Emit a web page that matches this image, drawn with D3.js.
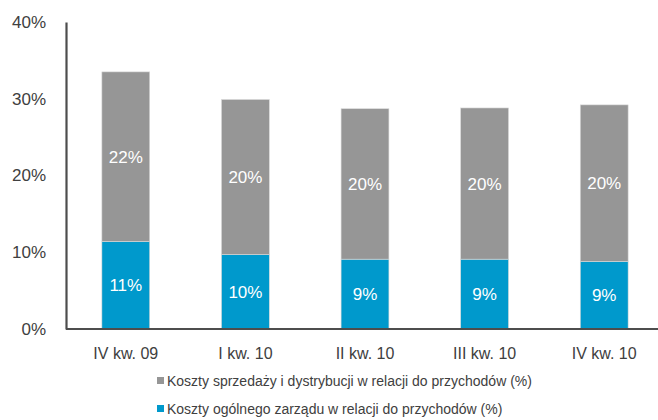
<!DOCTYPE html>
<html>
<head>
<meta charset="utf-8">
<script src="https://cdn.jsdelivr.net/npm/d3@7"></script>
<style>
  html, body { margin: 0; padding: 0; background: #fff; }
  svg { display: block; font-family: "Liberation Sans", Arial, sans-serif; }
</style>
</head>
<body>
<svg id="chart" width="658" height="420"></svg>
<script>
// Quarters shown on the x axis
const categories = ["IV kw. 09", "I kw. 10", "II kw. 10", "III kw. 10", "IV kw. 10"];
// General administrative costs as % of revenue (bottom segment)
const adminCosts = [11.4, 9.7, 9.1, 9.1, 8.8];
// Selling and distribution costs as % of revenue (top segment)
const salesCosts = [22.1, 20.2, 19.6, 19.7, 20.4];
// Y axis tick values (%)
const yTicks = [0, 10, 20, 30, 40];
// Legend entries
const seriesNames = [
  "Koszty sprzedaży i dystrybucji w relacji do przychodów (%)",
  "Koszty ogólnego zarządu w relacji do przychodów (%)"
];
const colors = { sales: "#969696", admin: "#0099cc" };

const svg = d3.select("#chart");
const plotLeft = 66, plotRight = 664, plotTop = 22, plotBottom = 329;

const x = d3.scaleBand().domain(categories).range([plotLeft, plotRight]).paddingInner(0.6).paddingOuter(0.3);
const y = d3.scaleLinear().domain([0, 40]).range([plotBottom, plotTop]);

const rows = categories.map((c, i) => ({ cat: c, admin: adminCosts[i], sales: salesCosts[i] }));
const stack = d3.stack().keys(["admin", "sales"])(rows);

const g = svg.append("g");
stack.forEach(layer => {
  g.selectAll(null).data(layer).enter().append("rect")
    .attr("x", d => x(d.data.cat))
    .attr("width", x.bandwidth())
    .attr("y", d => y(d[1]))
    .attr("height", d => y(d[0]) - y(d[1]))
    .attr("fill", colors[layer.key])
    .attr("stroke", "#d9d9d9")
    .attr("stroke-width", 0.6);
  g.selectAll(null).data(layer).enter().append("text")
    .attr("x", d => x(d.data.cat) + x.bandwidth() / 2)
    .attr("y", d => (y(d[0]) + y(d[1])) / 2)
    .attr("dy", "0.35em")
    .attr("text-anchor", "middle")
    .attr("fill", "#fff")
    .attr("font-size", 17)
    .text(d => Math.round(d.data[layer.key]) + "%");
});

// Y axis
const yAxis = d3.axisLeft(y).tickValues(yTicks).tickSize(0).tickPadding(20).tickFormat(d => d + "%");
const ya = svg.append("g").attr("transform", `translate(${plotLeft},0)`).call(yAxis);
ya.select(".domain").attr("stroke", "#4d4d4d").attr("stroke-width", 2.2);
ya.selectAll("text").attr("font-size", 17).attr("fill", "#404040")
  .attr("font-family", "'Liberation Sans', Arial, sans-serif");

// X axis
const xAxis = d3.axisBottom(x).tickSize(0).tickPadding(19);
const xa = svg.append("g").attr("transform", `translate(0,${plotBottom})`).call(xAxis);
xa.select(".domain").attr("d", `M${plotLeft},0H658`).attr("stroke", "#4d4d4d").attr("stroke-width", 2.2);
xa.selectAll("text").attr("font-size", 16).attr("fill", "#404040")
  .attr("font-family", "'Liberation Sans', Arial, sans-serif");

// Legend
const legend = svg.append("g").attr("transform", "translate(157,0)");
const legendY = [382, 410];
[colors.sales, colors.admin].forEach((c, i) => {
  legend.append("rect").attr("x", 0).attr("y", legendY[i] - 5).attr("width", 7).attr("height", 7).attr("fill", c);
  legend.append("text").attr("x", 10).attr("y", legendY[i]).attr("dy", "0.32em")
    .attr("font-size", 14).attr("fill", "#404040")
    .text(seriesNames[i]);
});
</script>
</body>
</html>
